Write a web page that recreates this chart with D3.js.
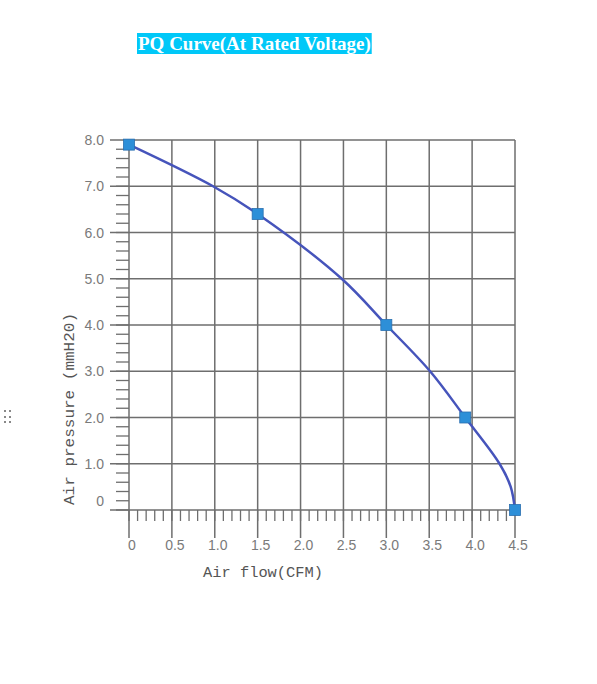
<!DOCTYPE html>
<html>
<head>
<meta charset="utf-8">
<script src="https://cdn.jsdelivr.net/npm/d3@7"></script>
<style>
  body { margin:0; background:#fff; }
  svg { display:block; }
</style>
</head>
<body>
<div id="plot"></div>
<script>
// measured points (square markers)
var flow = [0, 1.5, 3.0, 3.92, 4.5];          // CFM
var pressure = [7.9, 6.4, 4.0, 2.0, 0];       // mmH2O

// points
var curveFlow = [0, 0.98, 1.5, 2.48, 3.0, 3.51, 3.92, 4.32, 4.45, 4.5];
var curvePressure = [7.9, 7.0, 6.4, 5.0, 4.0, 3.0, 2.0, 1.0, 0.5, 0];

var xTicks = [0, 0.5, 1.0, 1.5, 2.0, 2.5, 3.0, 3.5, 4.0, 4.5];
var xTickLabels = ['0','0.5','1.0','1.5','2.0','2.5','3.0','3.5','4.0','4.5'];
var yTicks = [0, 1, 2, 3, 4, 5, 6, 7, 8];
var yTickLabels = ['0','1.0','2.0','3.0','4.0','5.0','6.0','7.0','8.0'];

var title = 'PQ Curve(At Rated Voltage)';
var xTitle = 'Air flow(CFM)';
var yTitle = 'Air pressure (mmH20)';

var W = 597, H = 684;
var svg = d3.select('#plot').append('svg')
  .attr('width', W).attr('height', H);

var x = d3.scaleLinear().domain([0, 4.5]).range([129, 515]);
var y = d3.scaleLinear().domain([0, 8]).range([510, 140]);

var gridColor = '#6e6e6e';

// title with cyan box
var t = svg.append('text')
  .attr('x', 138).attr('y', 50)
  .style('font-family', '"Liberation Serif", serif')
  .style('font-weight', 'bold')
  .style('font-size', '19px')
  .style('fill', '#fff')
  .text(title);
var bb = t.node().getBBox();
svg.insert('rect', 'text')
  .attr('x', 137).attr('y', 33)
  .attr('width', bb.width + 2).attr('height', 21)
  .style('fill', '#00c8f8');

// minor ticks
var xMinor = d3.range(0, 45).map(function (d) { return d / 10; });
svg.append('g').selectAll('line').data(xMinor).enter().append('line')
  .attr('x1', function (d) { return x(d); })
  .attr('x2', function (d) { return x(d); })
  .attr('y1', y(0)).attr('y2', y(0) + 11)
  .style('stroke', gridColor).style('stroke-width', 1.3);

var yMinor = d3.range(0, 40).map(function (d) { return d / 5; });
svg.append('g').selectAll('line').data(yMinor).enter().append('line')
  .attr('x1', x(0) - 13).attr('x2', x(0))
  .attr('y1', function (d) { return y(d); })
  .attr('y2', function (d) { return y(d); })
  .style('stroke', gridColor).style('stroke-width', 1.3);

// grid lines (extending past the axes as major ticks)
svg.append('g').selectAll('line').data(xTicks).enter().append('line')
  .attr('x1', function (d) { return x(d); })
  .attr('x2', function (d) { return x(d); })
  .attr('y1', y(8)).attr('y2', y(0) + 28)
  .style('stroke', gridColor).style('stroke-width', 1.5);

svg.append('g').selectAll('line').data(yTicks).enter().append('line')
  .attr('x1', x(0) - 19).attr('x2', x(4.5))
  .attr('y1', function (d) { return y(d); })
  .attr('y2', function (d) { return y(d); })
  .style('stroke', gridColor).style('stroke-width', 1.5);

// tick labels
svg.append('g').selectAll('text').data(xTicks).enter().append('text')
  .attr('x', function (d) { return x(d) + 3; })
  .attr('y', 550)
  .attr('text-anchor', 'middle')
  .style('font-family', '"Liberation Sans", sans-serif')
  .style('font-size', '14px')
  .style('fill', '#7a7a7a')
  .text(function (d, i) { return xTickLabels[i]; });

svg.append('g').selectAll('text').data(yTicks).enter().append('text')
  .attr('x', 104)
  .attr('y', function (d) { return d === 0 ? y(d) - 9 : y(d); })
  .attr('dy', '0.36em')
  .attr('text-anchor', 'end')
  .style('font-family', '"Liberation Sans", sans-serif')
  .style('font-size', '14px')
  .style('fill', '#7a7a7a')
  .text(function (d, i) { return yTickLabels[i]; });

// axis titles
svg.append('text')
  .attr('x', 263).attr('y', 577)
  .attr('text-anchor', 'middle')
  .attr('textLength', 120).attr('lengthAdjust', 'spacingAndGlyphs')
  .style('font-family', '"Liberation Mono", monospace')
  .style('font-size', '15px')
  .style('fill', '#555')
  .text(xTitle);

svg.append('text')
  .attr('transform', 'translate(74,409) rotate(-90)')
  .attr('text-anchor', 'middle')
  .attr('textLength', 192).attr('lengthAdjust', 'spacingAndGlyphs')
  .style('font-family', '"Liberation Mono", monospace')
  .style('font-size', '15px')
  .style('fill', '#555')
  .text(yTitle);

// PQ curve
var curvePts = curveFlow.map(function (f, i) { return [f, curvePressure[i]]; });
var line = d3.line()
  .x(function (d) { return x(d[0]); })
  .y(function (d) { return y(d[1]); })
  .curve(d3.curveCatmullRom.alpha(0.5));

svg.append('path').datum(curvePts)
  .attr('d', line)
  .style('fill', 'none')
  .style('stroke', '#4654bb')
  .style('stroke-width', 2.5);

var pts = flow.map(function (f, i) { return [f, pressure[i]]; });
svg.append('g').selectAll('rect').data(pts).enter().append('rect')
  .attr('x', function (d) { return x(d[0]) - 5.5; })
  .attr('y', function (d) { return y(d[1]) - 5.5; })
  .attr('width', 11).attr('height', 11)
  .style('fill', '#2d8fd8')
  .style('stroke', '#2a6fb0')
  .style('stroke-width', 0.8);

// small dot mark at the left edge
var dots = [[5, 411], [10, 411], [5, 417], [10, 417], [5, 422], [10, 422]];
svg.append('g').selectAll('rect').data(dots).enter().append('rect')
  .attr('x', function (d) { return d[0] - 1; })
  .attr('y', function (d) { return d[1] - 1; })
  .attr('width', 2).attr('height', 2)
  .style('fill', '#888');
</script>
</body>
</html>
